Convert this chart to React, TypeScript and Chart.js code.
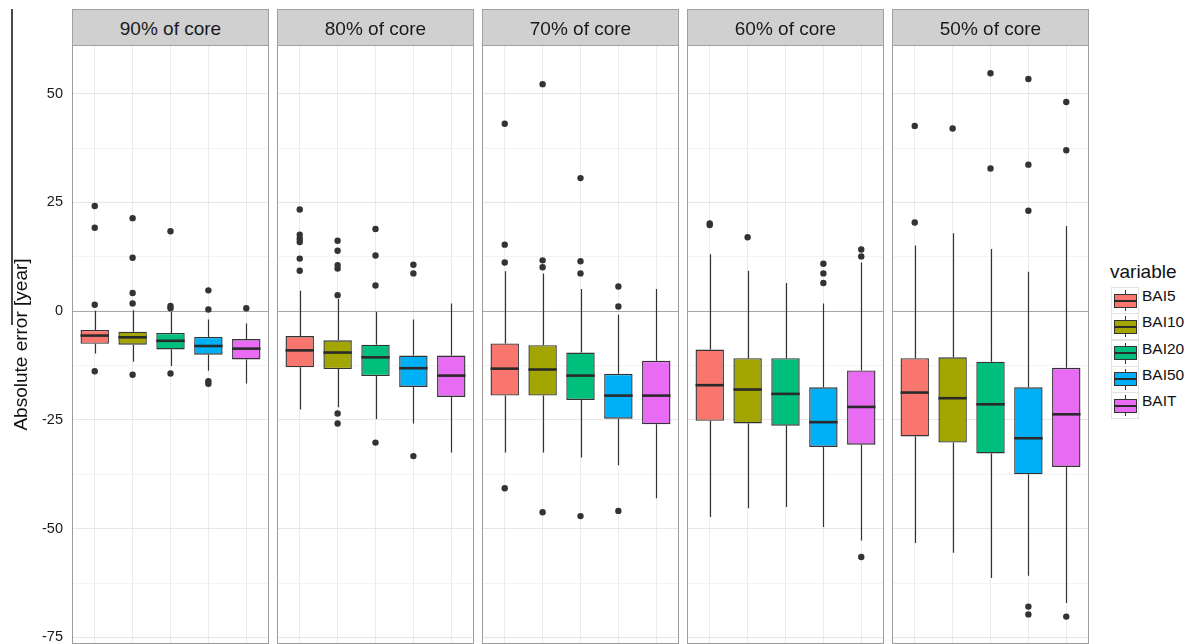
import React, { useEffect, useRef } from 'react';
import { Chart, registerables } from 'chart.js';

Chart.register(...registerables);

// ---- data ----------------------------------------------------------------
const facets = ['90% of core', '80% of core', '70% of core', '60% of core', '50% of core'];
const variables = ['BAI5', 'BAI10', 'BAI20', 'BAI50', 'BAIT'];
const fills = ['#F8766D', '#A3A500', '#00BF7D', '#00B0F6', '#E76BF3'];
const yTickValues = [-75, -62.5, -50, -37.5, -25, -12.5, 0, 12.5, 25, 37.5, 50];
const yAxisTitle = 'Absolute error [year]';
const legendTitle = 'variable';

// rows = facets, columns = variables
const whiskerLow = [
  [-9.7, -11.6, -12.6, -13.7, -16.6],
  [-22.6, -22.1, -24.8, -25.8, -32.5],
  [-32.5, -32.5, -33.6, -35.4, -43.0],
  [-47.3, -45.3, -45.0, -49.6, -52.7],
  [-53.3, -55.5, -61.3, -60.8, -67.1],
];
const lowerHinge = [
  [-7.5, -7.7, -8.8, -10.0, -11.1],
  [-12.9, -13.3, -14.9, -17.4, -19.7],
  [-19.4, -19.4, -20.4, -24.7, -26.0],
  [-25.2, -25.8, -26.3, -31.2, -30.7],
  [-28.8, -30.2, -32.7, -37.5, -35.8],
];
const medians = [
  [-5.6, -6.0, -6.8, -8.0, -8.6],
  [-9.0, -9.5, -10.6, -13.1, -14.8],
  [-13.2, -13.4, -14.8, -19.4, -19.4],
  [-17.0, -18.0, -19.0, -25.5, -22.0],
  [-18.7, -20.0, -21.4, -29.2, -23.7],
];
const upperHinge = [
  [-4.3, -4.7, -5.0, -5.9, -6.4],
  [-5.7, -6.7, -7.7, -10.2, -10.2],
  [-7.4, -7.8, -9.5, -14.4, -11.4],
  [-8.8, -10.8, -10.8, -17.5, -13.6],
  [-10.8, -10.6, -11.6, -17.5, -13.0],
];
const whiskerHigh = [
  [0.1, 0.2, -0.2, -1.9, -2.8],
  [4.7, 2.8, -0.2, -1.9, 1.8],
  [9.2, 8.7, 5.1, -0.8, 5.1],
  [13.1, 9.3, 6.5, 1.8, 11.2],
  [15.1, 17.9, 14.3, 9.1, 19.6],
];
const outliers = [
  [[24.2, 19.2, 1.5, -13.8], [21.4, 12.3, 4.2, 1.8, -14.6], [18.4, 1.2, 0.7, -14.3], [4.8, 0.4, -16.1, -16.7], [0.7]],
  [[23.4, 17.6, 16.7, 15.9, 12.1, 9.3], [16.2, 13.9, 10.6, 9.8, 3.7, -23.5, -25.8], [18.9, 12.8, 5.9, -30.2], [10.7, 8.7, -33.3], []],
  [[43.1, 15.3, 11.2, -40.7], [52.2, 11.7, 10.1, -46.2], [30.6, 11.5, 8.7, -47.1], [5.7, 1.1, -45.9], []],
  [[20.2, 19.8], [17.0], [], [10.9, 8.7, 6.5], [14.2, 12.6, -56.5]],
  [[42.6, 20.4], [42.0], [54.7, 32.8], [53.4, 33.7, 23.1, -67.9, -69.7], [48.1, 37.0, -70.2]],
];

// ---- layout --------------------------------------------------------------
const FONT = '"Liberation Sans", Arial, sans-serif';
const PANEL_X0 = 72;
const PANEL_STEP = 205;
const PANEL_W = 197;
const PLOT_TOP = 45;
const PLOT_H = 599;
const Y_MIN = -76.5;
const Y_MAX = 61.2;
const BOX_HALF = 0.375;
const INK = '#333333';

// whiskers, zero reference line, medians and panel frame for one facet
const boxPlotPlugin = {
  id: 'facetBoxPlot',
  beforeDatasetsDraw(chart: any, _args: any, opts: any) {
    const p = opts.facet as number;
    const { ctx, chartArea } = chart;
    const xs = chart.scales.x;
    const ys = chart.scales.y;
    ctx.save();
    const y0 = Math.round(ys.getPixelForValue(0)) + 0.5;
    ctx.strokeStyle = '#a6a6a6';
    ctx.lineWidth = 1.2;
    ctx.beginPath();
    ctx.moveTo(chartArea.left, y0);
    ctx.lineTo(chartArea.right, y0);
    ctx.stroke();

    ctx.strokeStyle = INK;
    ctx.lineWidth = 1.2;
    variables.forEach((_, v) => {
      const px = Math.round(xs.getPixelForValue(v + 1)) + 0.5;
      ctx.beginPath();
      ctx.moveTo(px, ys.getPixelForValue(whiskerHigh[p][v]));
      ctx.lineTo(px, ys.getPixelForValue(upperHinge[p][v]));
      ctx.moveTo(px, ys.getPixelForValue(lowerHinge[p][v]));
      ctx.lineTo(px, ys.getPixelForValue(whiskerLow[p][v]));
      ctx.stroke();
    });
    ctx.restore();
  },
  afterDatasetDraw(chart: any, args: any, opts: any) {
    if (args.meta.type !== 'bar') return;
    const p = opts.facet as number;
    const { ctx } = chart;
    const xs = chart.scales.x;
    const ys = chart.scales.y;
    ctx.save();
    ctx.strokeStyle = '#2a2a2a';
    ctx.lineWidth = 2.6;
    variables.forEach((_, v) => {
      const py = ys.getPixelForValue(medians[p][v]);
      ctx.beginPath();
      ctx.moveTo(xs.getPixelForValue(v + 1 - BOX_HALF), py);
      ctx.lineTo(xs.getPixelForValue(v + 1 + BOX_HALF), py);
      ctx.stroke();
    });
    ctx.restore();
  },
  afterDraw(chart: any) {
    const { ctx, chartArea } = chart;
    ctx.save();
    ctx.strokeStyle = '#9c9c9c';
    ctx.lineWidth = 1;
    ctx.strokeRect(
      chartArea.left + 0.5,
      chartArea.top + 0.5,
      chartArea.right - chartArea.left - 1,
      chartArea.bottom - chartArea.top - 1,
    );
    ctx.restore();
  },
};

function buildConfig(p: number, withAxis: boolean): any {
  const boxData = variables.map((_, v) => ({ x: v + 1, y: [lowerHinge[p][v], upperHinge[p][v]] }));
  const pointData: { x: number; y: number }[] = [];
  outliers[p].forEach((vals, v) => vals.forEach((y) => pointData.push({ x: v + 1, y })));

  return {
    type: 'bar',
    data: {
      datasets: [
        {
          type: 'scatter',
          label: 'outliers',
          data: pointData,
          pointRadius: 3.2,
          backgroundColor: INK,
          borderColor: INK,
          borderWidth: 0,
          order: 0,
        },
        {
          type: 'bar',
          label: 'IQR',
          data: boxData,
          backgroundColor: fills,
          borderColor: INK,
          borderWidth: 1.4,
          borderSkipped: false,
          barPercentage: BOX_HALF * 2,
          categoryPercentage: 1,
          order: 1,
        },
      ],
    },
    options: {
      animation: false,
      responsive: false,
      maintainAspectRatio: false,
      events: [],
      layout: { padding: 0, autoPadding: false },
      font: { family: FONT },
      plugins: {
        legend: { display: false },
        tooltip: { enabled: false },
        facetBoxPlot: { facet: p },
      },
      scales: {
        x: {
          type: 'linear',
          min: 0.4,
          max: 5.6,
          offset: false,
          afterBuildTicks: (s: any) => {
            s.ticks = variables.map((_, v) => ({ value: v + 1 }));
          },
          grid: { color: '#ebebeb', lineWidth: 1, drawTicks: false, offset: false },
          border: { display: false },
          ticks: { display: false },
        },
        y: {
          type: 'linear',
          min: Y_MIN,
          max: Y_MAX,
          afterBuildTicks: (s: any) => {
            s.ticks = yTickValues.map((value) => ({ value }));
          },
          afterFit: (s: any) => {
            s.width = withAxis ? PANEL_X0 : 0;
            s.paddingTop = 0;
            s.paddingBottom = 0;
          },
          grid: {
            color: (c: any) => (c.tick && c.tick.value % 25 === 0 ? '#e6e6e6' : '#f3f3f3'),
            lineWidth: 1,
            drawTicks: false,
          },
          border: { display: false },
          ticks: {
            display: withAxis,
            padding: 9,
            color: '#1a1a1a',
            font: { family: FONT, size: 14.5 },
            callback: (v: number) => (v % 25 === 0 ? String(v) : ''),
          },
          title: {
            display: withAxis,
            text: yAxisTitle,
            color: '#111111',
            font: { family: FONT, size: 19 },
            padding: { top: 10, bottom: 0 },
          },
        },
      },
    },
    plugins: [boxPlotPlugin],
  };
}

function FacetPanel({ index }: { index: number }) {
  const ref = useRef<HTMLCanvasElement | null>(null);
  const withAxis = index === 0;
  const left = withAxis ? 0 : PANEL_X0 + PANEL_STEP * index;
  const width = withAxis ? PANEL_X0 + PANEL_W : PANEL_W;

  useEffect(() => {
    if (!ref.current) return;
    const chart = new Chart(ref.current, buildConfig(index, withAxis));
    return () => chart.destroy();
  }, [index, withAxis]);

  return (
    <canvas
      ref={ref}
      width={width}
      height={PLOT_H}
      style={{ position: 'absolute', left, top: PLOT_TOP, width, height: PLOT_H }}
    />
  );
}

function Strip({ index, label }: { index: number; label: string }) {
  return (
    <div
      style={{
        position: 'absolute',
        left: PANEL_X0 + PANEL_STEP * index,
        top: 9,
        width: PANEL_W,
        height: 37,
        boxSizing: 'border-box',
        border: '1px solid #a0a0a0',
        background: '#d0d0d0',
        color: '#1a1a1a',
        font: `19px ${FONT}`,
        lineHeight: '37px',
        textAlign: 'center',
      }}
    >
      {label}
    </div>
  );
}

function LegendKey({ i }: { i: number }) {
  const top = 287 + i * 26.3;
  return (
    <>
      <div
        style={{
          position: 'absolute',
          left: 1111,
          top,
          width: 28,
          height: 27,
          boxSizing: 'border-box',
          border: '1px solid #e2e2e2',
          background: '#ffffff',
        }}
      >
        <div style={{ position: 'absolute', left: 12.5, top: 2, width: 1.3, height: 21, background: INK }} />
        <div
          style={{
            position: 'absolute',
            left: 1.5,
            top: 5.5,
            width: 23,
            height: 14,
            boxSizing: 'border-box',
            border: `1.3px solid ${INK}`,
            background: fills[i],
          }}
        />
        <div style={{ position: 'absolute', left: 1.5, top: 11.5, width: 23, height: 2, background: '#2a2a2a' }} />
      </div>
      <div
        style={{
          position: 'absolute',
          left: 1142,
          top,
          height: 27,
          lineHeight: '27px',
          font: `15.5px ${FONT}`,
          color: '#111111',
          whiteSpace: 'nowrap',
        }}
      >
        {variables[i]}
      </div>
    </>
  );
}

export default function App() {
  return (
    <div
      style={{
        position: 'fixed',
        left: 0,
        top: 0,
        width: 1187,
        height: 644,
        overflow: 'hidden',
        background: '#ffffff',
        fontFamily: FONT,
      }}
    >
      <div style={{ position: 'absolute', left: 11, top: 9, width: 2, height: 316, background: '#4a4a4a' }} />
      {facets.map((_, i) => (
        <FacetPanel key={`panel-${i}`} index={i} />
      ))}
      {facets.map((f, i) => (
        <Strip key={`strip-${i}`} index={i} label={f} />
      ))}
      <div
        style={{
          position: 'absolute',
          left: 1110,
          top: 261,
          lineHeight: '22px',
          font: `19px ${FONT}`,
          color: '#111111',
        }}
      >
        {legendTitle}
      </div>
      {variables.map((_, i) => (
        <LegendKey key={`key-${i}`} i={i} />
      ))}
    </div>
  );
}
